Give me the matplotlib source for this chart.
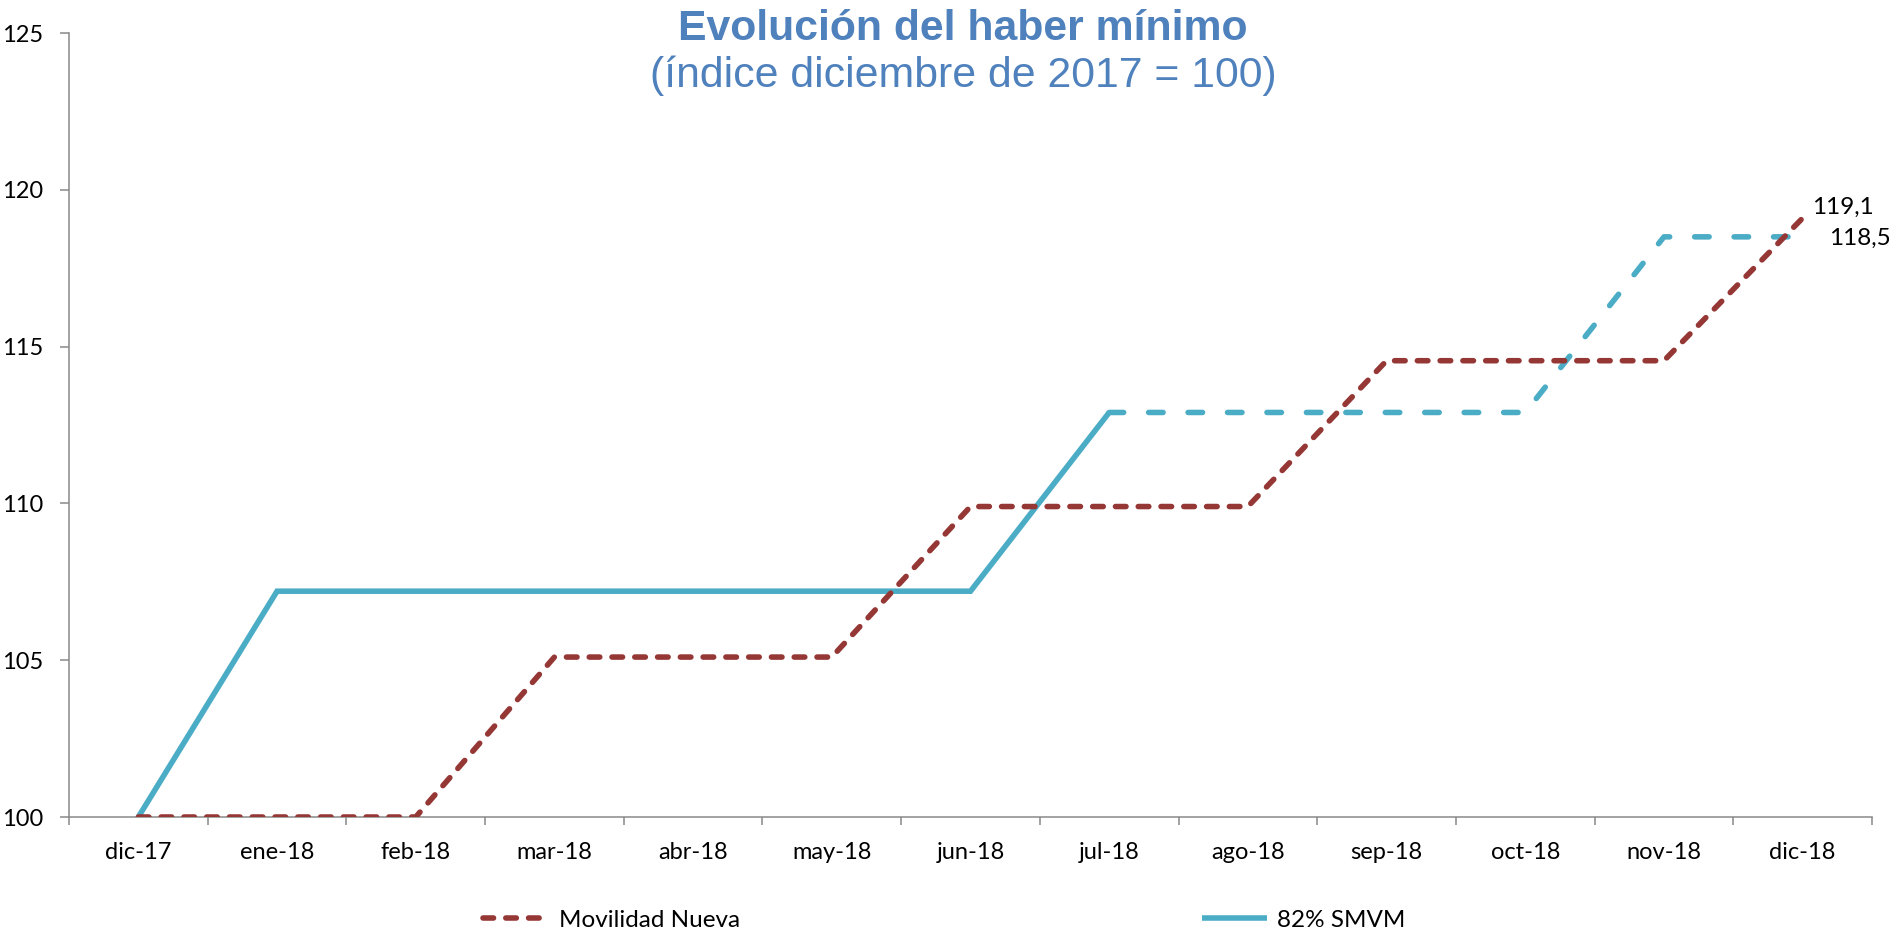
import matplotlib
matplotlib.use("Agg")
import matplotlib.pyplot as plt

months = ["dic-17", "ene-18", "feb-18", "mar-18", "abr-18", "may-18", "jun-18",
          "jul-18", "ago-18", "sep-18", "oct-18", "nov-18", "dic-18"]
movilidad_nueva = [100.0, 100.0, 100.0, 105.1, 105.1, 105.1, 109.9,
                   109.9, 109.9, 114.55, 114.55, 114.55, 119.1]
smvm_82 = [100.0, 107.2, 107.2, 107.2, 107.2, 107.2, 107.2,
           112.9, 112.9, 112.9, 112.9, 118.5, 118.5]
smvm_solid_until = 7  # index of jul-18; dashed afterwards
yticks = [100, 105, 110, 115, 120, 125]
label_mn = "119,1"
label_smvm = "118,5"

RED = "#953735"
CYAN = "#4BACC6"
TITLE = "#4F81BD"
AXIS = "#898989"
LAB = "Lato"
FS = 17

fig = plt.figure(figsize=(18.89, 9.33), dpi=100)
ax = fig.add_axes([69/1889, 1-817/933, (1872-69)/1889, (817-33)/933])

x = list(range(len(months)))
lw = 4.0
ln_mn, = ax.plot(x, movilidad_nueva, color=RED, lw=lw, dashes=(1.9, 2.2),
                 dash_capstyle="round", dash_joinstyle="round",
                 label="Movilidad Nueva", zorder=3)
k = smvm_solid_until
ln_s, = ax.plot(x[:k+1], smvm_82[:k+1], color=CYAN, lw=lw,
                solid_capstyle="butt", solid_joinstyle="miter",
                label="82% SMVM", zorder=2)
ax.plot(x[k:], smvm_82[k:], color=CYAN, lw=lw, dashes=(2.6, 4.5),
        dash_capstyle="round", dash_joinstyle="round", zorder=2)

ax.set_xlim(-0.5, len(months) - 0.5)
ax.set_ylim(yticks[0], yticks[-1])
ax.set_yticks(yticks)
ax.set_yticklabels([str(v) for v in yticks], fontfamily=LAB, fontsize=FS)
ax.set_xticks([i - 0.5 for i in range(len(months) + 1)])
ax.set_xticklabels([])
ax.set_xticks(x, minor=True)
ax.set_xticklabels(months, minor=True, fontfamily=LAB, fontsize=FS)
ax.tick_params(axis="x", which="major", length=6, width=1.1, color=AXIS, direction="out")
ax.tick_params(axis="x", which="minor", length=0, pad=18)
ax.tick_params(axis="y", which="major", length=6.5, width=1.1, color=AXIS, pad=12)

for s in ["top", "right"]:
    ax.spines[s].set_visible(False)
for s in ["left", "bottom"]:
    ax.spines[s].set_color(AXIS)
    ax.spines[s].set_linewidth(1.1)

ax.annotate(label_mn, xy=(x[-1], movilidad_nueva[-1]), xytext=(7, 8),
            textcoords="offset points", fontfamily=LAB, fontsize=17.5,
            ha="left", va="center", annotation_clip=False)
ax.annotate(label_smvm, xy=(x[-1], smvm_82[-1]), xytext=(19, -1),
            textcoords="offset points", fontfamily=LAB, fontsize=17.5,
            ha="left", va="center", annotation_clip=False)

fig.text(963/1889, 1-40/933, "Evolución del haber mínimo", ha="center",
         va="baseline", fontfamily="Liberation Sans", fontweight="bold",
         fontsize=30.8, color=TITLE)
fig.text(963/1889, 1-87/933, "(índice diciembre de 2017 = 100)", ha="center",
         va="baseline", fontfamily="Liberation Sans", fontsize=30.8, color=TITLE)

fig.legend(handles=[ln_mn, ln_s], loc="center", bbox_to_anchor=(0.5, 1-920/933),
           ncol=2, frameon=False, prop={"family": LAB, "size": 17.5},
           handlelength=2.7, handletextpad=0.4, columnspacing=19.0,
           borderpad=0, borderaxespad=0)

fig.savefig("out.png", dpi=100, facecolor="white")
